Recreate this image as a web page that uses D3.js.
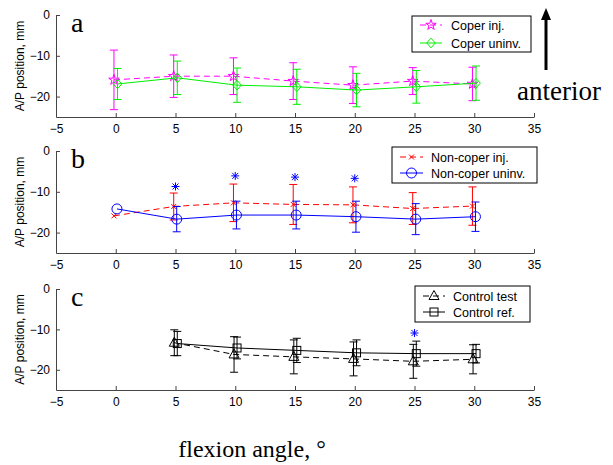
<!DOCTYPE html>
<html><head><meta charset="utf-8">
<script src="https://cdn.jsdelivr.net/npm/d3@7/dist/d3.min.js"></script>
<style>
body{margin:0;background:#fff}
svg{display:block}
</style></head>
<body>
<svg id="chart" width="613" height="465"></svg>
<script>
// ---------- data ----------
const angles = [0, 5, 10, 15, 20, 25, 30];
const anglesC = [5, 10, 15, 20, 25, 30];
const xTicks = [-5, 0, 5, 10, 15, 20, 25, 30, 35];
const yTicks = [0, -10, -20];

// panel a
const coperInjMean = [-15.9, -15.0, -15.0, -16.2, -17.2, -16.2, -16.9];
const coperInjSd = [7.3, 5.2, 4.5, 4.5, 4.5, 3.3, 4.1];
const coperUninvMean = [-16.9, -15.4, -17.2, -17.6, -18.4, -17.6, -16.7];
const coperUninvSd = [3.8, 4.1, 4.2, 4.3, 4.1, 4.0, 4.2];

// panel b
const nonInjMean = [-15.9, -13.6, -12.7, -13.1, -13.2, -14.1, -13.5];
const nonInjSd = [null, 3.3, 4.6, 4.9, 4.4, 3.9, 4.7];
const nonUninvMean = [-14.2, -16.7, -15.7, -15.7, -16.1, -16.7, -16.1];
const nonUninvSd = [null, 3.1, 3.4, 3.4, 3.8, 3.8, 3.6];
const sigB_x = [5, 10, 15, 20];
const sigB_y = [-8.7, -6.1, -6.4, -6.7];

// panel c
const ctrlTestMean = [-13.3, -16.2, -16.8, -17.3, -17.9, -17.4];
const ctrlTestSd = [3.2, 4.4, 4.2, 4.2, 4.2, 3.6];
const ctrlRefMean = [-13.5, -14.6, -15.2, -15.8, -16.0, -16.0];
const ctrlRefSd = [3.0, 2.7, 3.0, 3.2, 3.1, 2.3];
const sigC_x = [25];
const sigC_y = [-10.9];

// ---------- layout ----------
const svg = d3.select('#chart');
const x = d3.scaleLinear().domain([-5, 35]).range([56, 534]);

const panels = [
  { letter: 'a', top: 15, bottom: 117,
    series: [
      { name: 'Coper inj.', xs: angles, mean: coperInjMean, sd: coperInjSd, color: '#ff00ff', dash: '6,4', marker: 'star', dx: -0.15 },
      { name: 'Coper uninv.', xs: angles, mean: coperUninvMean, sd: coperUninvSd, color: '#00ee00', dash: null, marker: 'diamond', dx: 0.15 }
    ],
    sig: null,
    legend: { x: 412, y: 16, w: 119, h: 36, sx1: 420, sx2: 442, tx: 451, rows: [25, 43] } },
  { letter: 'b', top: 151, bottom: 253,
    series: [
      { name: 'Non-coper inj.', xs: angles, mean: nonInjMean, sd: nonInjSd, color: '#ff0000', dash: '6,4', marker: 'x', dx: -0.15 },
      { name: 'Non-coper uninv.', xs: angles, mean: nonUninvMean, sd: nonUninvSd, color: '#0000ff', dash: null, marker: 'circle', dx: 0.1 }
    ],
    sig: { xs: sigB_x, ys: sigB_y },
    legend: { x: 392, y: 147, w: 145, h: 36, sx1: 400, sx2: 423, tx: 431, rows: [157, 173] } },
  { letter: 'c', top: 289, bottom: 390,
    series: [
      { name: 'Control test', xs: anglesC, mean: ctrlTestMean, sd: ctrlTestSd, color: '#000000', dash: '6,4', marker: 'triangle', dx: -0.1 },
      { name: 'Control ref.', xs: anglesC, mean: ctrlRefMean, sd: ctrlRefSd, color: '#000000', dash: null, marker: 'square', dx: 0.15 }
    ],
    sig: { xs: sigC_x, ys: sigC_y },
    legend: { x: 415, y: 286, w: 115, h: 36, sx1: 423, sx2: 445, tx: 453, rows: [296, 312] } }
];

function marker(g, type, cx, cy, color) {
  const m = g.append('g').attr('transform', `translate(${cx},${cy})`)
    .attr('fill', 'none').attr('stroke', color).attr('stroke-width', 1);
  if (type === 'star') {
    m.append('path').attr('d', d3.symbol(d3.symbolStar, 34)());
  } else if (type === 'diamond') {
    m.append('path').attr('d', 'M0,-4.8L4.3,0L0,4.8L-4.3,0Z');
  } else if (type === 'circle') {
    m.append('circle').attr('r', 5);
  } else if (type === 'x') {
    m.append('path').attr('d', 'M-2.5,-2.5L2.5,2.5M-2.5,2.5L2.5,-2.5');
  } else if (type === 'triangle') {
    m.append('path').attr('d', 'M0,-5.5L5,3.5L-5,3.5Z');
  } else if (type === 'square') {
    m.append('rect').attr('x', -4).attr('y', -4).attr('width', 8).attr('height', 8);
  } else if (type === 'asterisk') {
    m.append('path').attr('d', 'M-4,0L4,0M0,-4L0,4M-3,-3L3,3M-3,3L3,-3');
  }
}

panels.forEach(p => {
  const y = d3.scaleLinear().domain([-25, 0]).range([p.bottom, p.top]);
  const g = svg.append('g');

  // axes
  const xa = g.append('g').attr('transform', `translate(0,${p.bottom})`)
    .call(d3.axisBottom(x).tickValues(xTicks).tickSize(-4).tickSizeOuter(0).tickPadding(7).tickFormat(d3.format('d')));
  const ya = g.append('g').attr('transform', `translate(${x(-5)},0)`)
    .call(d3.axisLeft(y).tickValues(yTicks).tickSize(-4).tickSizeOuter(0).tickPadding(6).tickFormat(d3.format('d')));
  [xa, ya].forEach(a => {
    a.selectAll('path.domain').attr('stroke', '#444').attr('stroke-width', 1);
    a.selectAll('.tick line').attr('stroke', '#444');
    a.selectAll('text').attr('font-family', 'Liberation Sans, Arial, sans-serif').attr('font-size', 12).attr('fill', '#000');
  });
  xa.selectAll('text').attr('dy', '0.71em');

  // y-axis title
  g.append('text')
    .attr('transform', `translate(24,${(p.top + p.bottom) / 2}) rotate(-90)`)
    .attr('text-anchor', 'middle')
    .attr('font-family', 'Liberation Sans, Arial, sans-serif').attr('font-size', 12)
    .text('A/P position, mm');

  // panel letter
  g.append('text').attr('x', 71).attr('y', p.top + 17)
    .attr('font-family', 'Liberation Serif, Times New Roman, serif').attr('font-size', 28)
    .text(p.letter);

  // series
  p.series.forEach(s => {
    const pts = s.xs.map((a, i) => ({ a: a + s.dx, m: s.mean[i], sd: s.sd[i] }));
    // error bars
    pts.filter(d => d.sd != null).forEach(d => {
      const cx = x(d.a), y1 = y(d.m + d.sd), y2 = y(d.m - d.sd);
      g.append('path')
        .attr('d', `M${cx},${y1}L${cx},${y2}M${cx - 4},${y1}L${cx + 4},${y1}M${cx - 4},${y2}L${cx + 4},${y2}`)
        .attr('stroke', s.color).attr('stroke-width', 1).attr('fill', 'none');
    });
    // line
    g.append('path').datum(pts)
      .attr('d', d3.line().x(d => x(d.a)).y(d => y(d.m)))
      .attr('fill', 'none').attr('stroke', s.color).attr('stroke-width', 1)
      .attr('stroke-dasharray', s.dash);
    pts.forEach(d => marker(g, s.marker, x(d.a), y(d.m), s.color));
  });

  // significance asterisks
  if (p.sig) {
    p.sig.xs.forEach((a, i) => marker(g, 'asterisk', x(a), y(p.sig.ys[i]), '#0000ff'));
  }

  // legend
  const L = p.legend;
  g.append('rect').attr('x', L.x).attr('y', L.y).attr('width', L.w).attr('height', L.h)
    .attr('fill', '#fff').attr('stroke', '#000').attr('stroke-width', 1);
  p.series.forEach((s, i) => {
    const ry = L.rows[i];
    g.append('line').attr('x1', L.sx1).attr('x2', L.sx2).attr('y1', ry).attr('y2', ry)
      .attr('stroke', s.color).attr('stroke-width', 1).attr('stroke-dasharray', s.dash);
    marker(g, s.marker, (L.sx1 + L.sx2) / 2, ry, s.color);
    g.append('text').attr('x', L.tx).attr('y', ry + 4.5)
      .attr('font-family', 'Liberation Sans, Arial, sans-serif').attr('font-size', 12.5)
      .text(s.name);
  });
});

// anterior arrow
svg.append('line').attr('x1', 546).attr('x2', 546).attr('y1', 70).attr('y2', 18)
  .attr('stroke', '#000').attr('stroke-width', 3);
svg.append('path').attr('d', 'M546,8L551,20L541,20Z').attr('fill', '#000');
svg.append('text').attr('x', 517).attr('y', 100)
  .attr('font-family', 'Liberation Serif, Times New Roman, serif').attr('font-size', 27)
  .text('anterior');

// x-axis title
svg.append('text').attr('x', 252).attr('y', 457).attr('text-anchor', 'middle')
  .attr('font-family', 'Liberation Serif, Times New Roman, serif').attr('font-size', 24)
  .text('flexion angle, °');
</script>
</body></html>
